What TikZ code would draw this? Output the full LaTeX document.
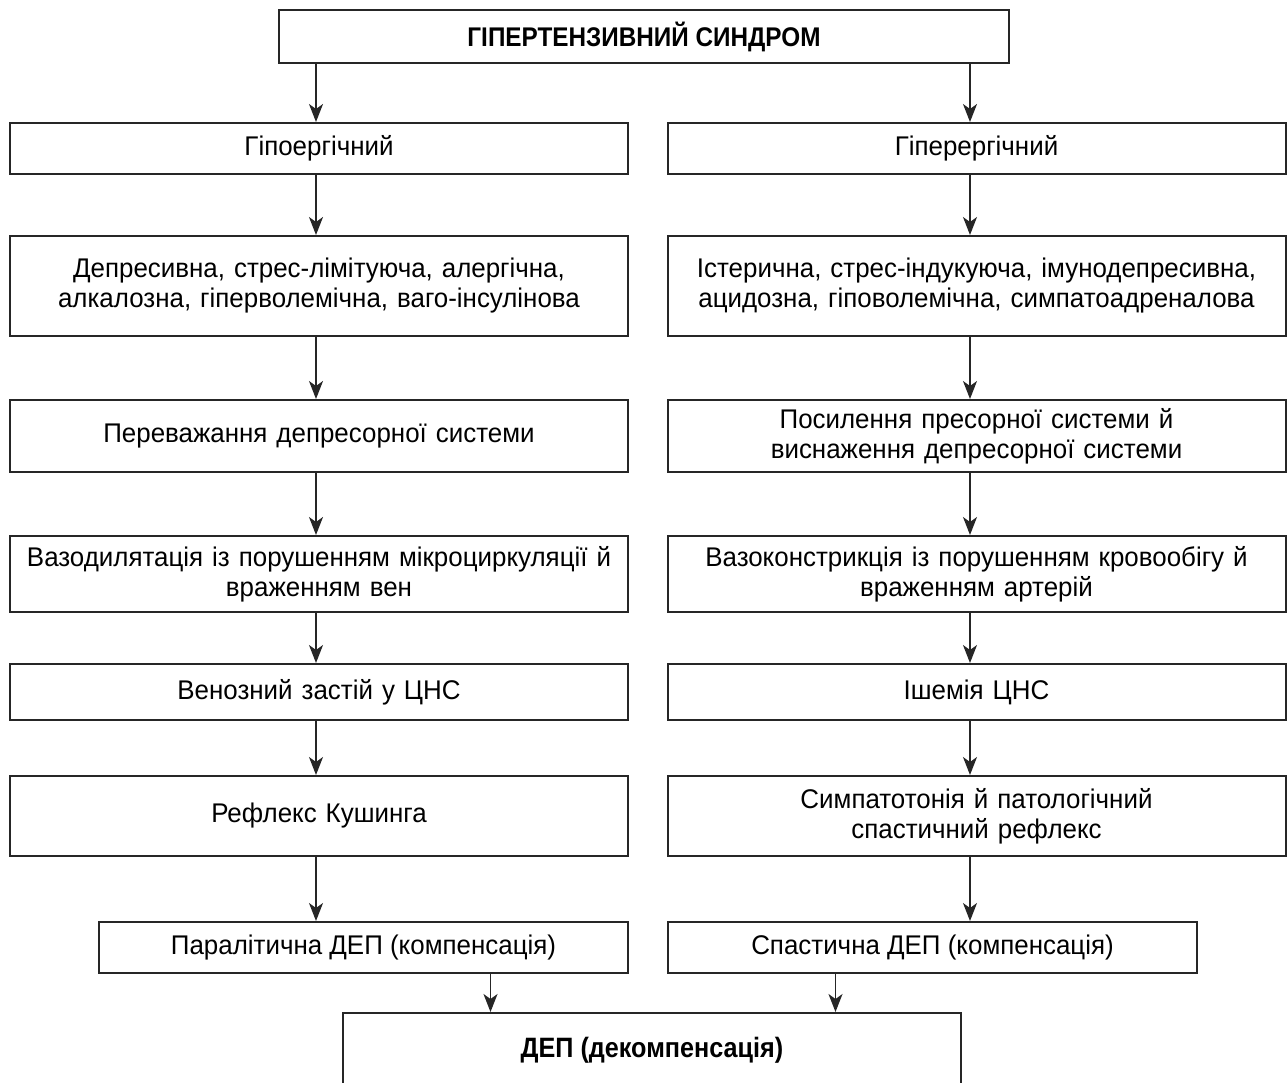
\documentclass[tikz,border=0pt]{standalone}
\usepackage{fontspec}
\setmainfont{Liberation Sans}
\newfontfamily\mainnarrow[FakeStretch=0.96]{Liberation Sans}
\newfontfamily\boldnarrow[FakeStretch=0.9]{Liberation Sans Bold}
\usetikzlibrary{arrows.meta,calc}
\tikzset{
  box/.style={draw=black!85, line width=1pt, inner sep=0pt, align=center,
    font=\mainnarrow\fontsize{13.5}{15}\selectfont},
  colbox/.style={box, minimum width=309pt, text width=304pt},
  boldtext/.style={font=\boldnarrow\fontsize{13.5}{15}\selectfont},
  arr/.style={draw=black!85, line width=0.75pt, -{Stealth[length=9pt,width=7pt,inset=2.5pt]}},
}
\begin{document}
\begin{tikzpicture}[x=0.5pt,y=-0.5pt]
\useasboundingbox (0,0) rectangle (1287,1083);
\clip (0,0) rectangle (1287,1083);
% top
\node[box, minimum width=365pt, minimum height=26.5pt, boldtext] (top) at (644,36.5) {ГІПЕРТЕНЗИВНИЙ СИНДРОМ};
% left column
\node[colbox, minimum height=25.5pt] (l2) at (319,148.5) {Гіпоергічний};
\node[colbox, minimum height=50pt] (l3) at (319,286) {Депресивна, стрес-лімітуюча, алергічна,\\алкалозна, гіперволемічна, ваго-інсулінова};
\node[colbox, minimum height=36pt] (l4) at (319,436) {Переважання депресорної системи};
\node[colbox, minimum height=38pt] (l5) at (319,574) {Вазодилятація із порушенням мікроциркуляції й\\враженням вен};
\node[colbox, minimum height=28pt] (l6) at (319,692) {Венозний застій у ЦНС};
\node[colbox, minimum height=40pt] (l7) at (319,816) {Рефлекс Кушинга};
\node[box, minimum width=264.5pt, minimum height=25.5pt] (l8) at (363.5,947.5) {Паралітична ДЕП (компенсація)};
% right column
\node[colbox, minimum height=25.5pt] (r2) at (976.5,148.5) {Гіперергічний};
\node[colbox, minimum height=50pt] (r3) at (976.5,286) {Істерична, стрес-індукуюча, імунодепресивна,\\ацидозна, гіповолемічна, симпатоадреналова};
\node[colbox, minimum height=36pt] (r4) at (976.5,436) {Посилення пресорної системи й\\виснаження депресорної системи};
\node[colbox, minimum height=38pt] (r5) at (976.5,574) {Вазоконстрикція із порушенням кровообігу й\\враженням артерій};
\node[colbox, minimum height=28pt] (r6) at (976.5,692) {Ішемія ЦНС};
\node[colbox, minimum height=40pt] (r7) at (976.5,816) {Симпатотонія й патологічний\\спастичний рефлекс};
\node[box, minimum width=264.5pt, minimum height=25.5pt] (r8) at (932.5,947.5) {Спастична ДЕП (компенсація)};
% bottom
\node[box, anchor=north, minimum width=309pt, minimum height=60pt, font=\boldnarrow\fontsize{14}{15}\selectfont] (bot) at (652,1012) {\raisebox{26pt}{ДЕП (декомпенсація)}};
% arrows
\draw[arr] ($(top.south -| l2.north)+(-3,0)$) -- ($(l2.north)+(-3,0)$);
\draw[arr] ($(top.south -| r2.north)+(-6.5,0)$) -- ($(r2.north)+(-6.5,0)$);
\foreach \a/\b in {l2/l3,l3/l4,l4/l5,l5/l6,l6/l7}{
  \draw[arr] ($(\a.south)+(-3,0)$) -- ($(\b.north)+(-3,0)$);
}
\draw[arr] ($(l7.south)+(-3,0)$) -- ($(l7.south |- l8.north)+(-3,0)$);
\foreach \a/\b in {r2/r3,r3/r4,r4/r5,r5/r6,r6/r7}{
  \draw[arr] ($(\a.south)+(-6.5,0)$) -- ($(\b.north)+(-6.5,0)$);
}
\draw[arr] ($(r7.south)+(-6.5,0)$) -- ($(r7.south |- r8.north)+(-6.5,0)$);
\draw[arr] ($(l8.south)+(127,0)$) -- ($(l8.south |- bot.north)+(127,0)$);
\draw[arr] ($(r8.south)+(-97,0)$) -- ($(r8.south |- bot.north)+(-97,0)$);
\end{tikzpicture}
\end{document}
